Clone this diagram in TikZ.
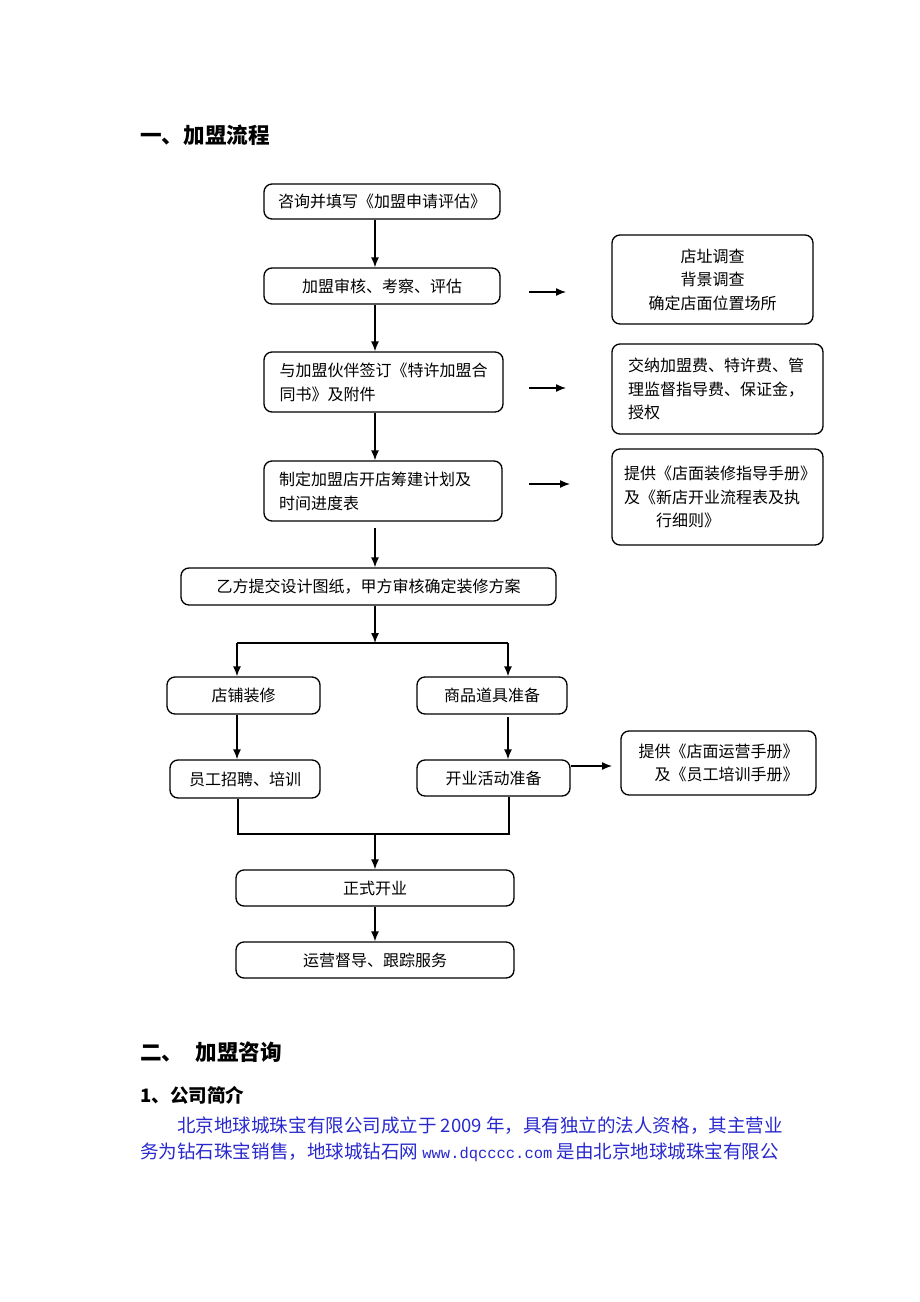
\documentclass[tikz,border=0pt]{standalone}
\usepackage{fontspec}
\setmainfont{Noto Sans CJK SC}
\newfontfamily\urlfont{Liberation Mono}
\usetikzlibrary{arrows.meta}
\definecolor{paraBlue}{RGB}{40,40,205}
\begin{document}
\begin{tikzpicture}[x=0.75pt,y=-0.75pt,
  box/.style={draw, line width=1pt, rounded corners=6pt, inner sep=0pt,
    font=\fontsize{12}{18}\selectfont, align=center},
  rbox/.style={box, font=\fontsize{12}{17.6}\selectfont},
  arr/.style={line width=1pt, -{Latex[length=7.5pt,width=6pt]}},
  ln/.style={line width=1pt},
  title/.style={anchor=base west, inner sep=0pt, font=\fontsize{16.2}{20}\selectfont\bfseries}
]
\useasboundingbox (0,0) rectangle (920,1302);

% headings
\node[title] (t1) at (140,144) {一、加盟流程};

% main column
\node[box, minimum width=177pt, minimum height=26.25pt] (box1) at (382,201.5) {咨询并填写《加盟申请评估》};
\node[box, minimum width=177pt, minimum height=27pt] (box2) at (382,286) {加盟审核、考察、评估};
\node[box, minimum width=179.25pt, minimum height=45pt, text width=156pt, align=left] (box3) at (383.5,382) {与加盟伙伴签订《特许加盟合\\同书》及附件};
\node[box, minimum width=178.5pt, minimum height=45pt, text width=156pt, align=left] (box4) at (383,491) {制定加盟店开店筹建计划及\\时间进度表};

% right boxes
\node[rbox, minimum width=150.75pt, minimum height=66.75pt] (boxA) at (712.5,279.5) {店址调查\\背景调查\\确定店面位置场所};
\node[rbox, minimum width=158.25pt, minimum height=67.5pt, text width=134pt, align=left] (boxB) at (717.5,389) {交纳加盟费、特许费、管\\理监督指导费、保证金，\\授权};
\node[rbox, minimum width=158.25pt, minimum height=72pt, text width=140pt, align=left] (boxC) at (717.5,497) {提供《店面装修指导手册》\\及《新店开业流程表及执\\\hspace*{2em}行细则》};

\node[box, minimum width=281.25pt, minimum height=27.75pt] (box5) at (368.5,586.5) {乙方提交设计图纸，甲方审核确定装修方案};
\node[box, minimum width=114.75pt, minimum height=27.75pt] (box6) at (243.5,695.5) {店铺装修};
\node[box, minimum width=112.5pt, minimum height=27.75pt] (box7) at (492,695.5) {商品道具准备};
\node[box, minimum width=112.5pt, minimum height=28.5pt] (box8) at (245,779) {员工招聘、培训};
\node[box, minimum width=114.75pt, minimum height=27pt] (box9) at (493.5,778) {开业活动准备};
\node[rbox, minimum width=146.25pt, minimum height=48pt, align=left] (boxD) at (718.5,763) {提供《店面运营手册》\\\hspace*{1em}及《员工培训手册》};
\node[box, minimum width=208.5pt, minimum height=27pt] (box10) at (375,888) {正式开业};
\node[box, minimum width=208.5pt, minimum height=27pt] (box11) at (375,960) {运营督导、跟踪服务};

% connectors main column
\draw[arr] (box1.south -| box10.north) -- (box2.north -| box10.north);
\draw[arr] (box2.south -| box10.north) -- (box3.north -| box10.north);
\draw[arr] (box3.south -| box10.north) -- (box4.north -| box10.north);
\draw[arr, shorten <=5pt] (box4.south -| box10.north) -- (box5.north -| box10.north);

% side arrows
\coordinate (r1s) at (529,292); \coordinate (r1e) at (566,292);
\coordinate (r2s) at (529,388); \coordinate (r2e) at (566,388);
\coordinate (r3s) at (529,484); \coordinate (r3e) at (570,484);
\draw[arr] (r1s) -- (r1e);
\draw[arr] (r2s) -- (r2e);
\draw[arr] (r3s) -- (r3e);

% split
\coordinate (j1) at (375,643);
\coordinate (jl) at (237,643);
\coordinate (jr) at (508,643);
\draw[arr] (box5.south -| j1) -- (j1);
\draw[ln] (jl) -- (jr);
\draw[arr] (jl) -- (box6.north -| jl);
\draw[arr] (jr) -- (box7.north -| jr);
\draw[arr] (box6.south -| jl) -- (box8.north -| jl);
\draw[arr, shorten <=2pt] (box7.south -| jr) -- (box9.north -| jr);

% to box D
\coordinate (d1) at (612,766);
\draw[arr] (box9.east |- d1) -- (d1);

% merge
\coordinate (ml) at (238,834);
\coordinate (mr) at (509,834);
\draw[ln] (box8.south -| ml) -- (ml) -- (mr) -- (box9.south -| mr);
\draw[arr] (ml -| box10.north) -- (box10.north);
\draw[arr] (box10.south) -- (box11.north);

% section two
\node[title] (t2) at (140,1060) {二、\hspace{9pt}加盟咨询};
\node[anchor=base west, inner sep=0pt, font=\fontsize{13.9}{18}\selectfont\bfseries] (t3) at (140,1102) {1、公司简介};
\node[anchor=base west, inner sep=0pt, align=left, text=paraBlue,
  font=\fontsize{13.9}{19.5}\selectfont] (para) at (140,1158)
  {\hspace*{27.75pt}北京地球城珠宝有限公司成立于 2009 年，具有独立的法人资格，其主营业\\务为钻石珠宝销售，地球城钻石网 {\urlfont\fontsize{11.6}{19.5}\selectfont www.dqcccc.com} 是由北京地球城珠宝有限公};
\end{tikzpicture}
\end{document}
